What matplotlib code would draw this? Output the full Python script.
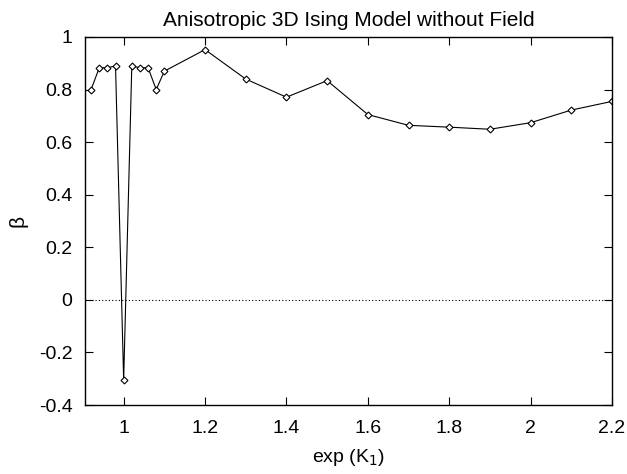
import matplotlib
matplotlib.use("Agg")
import matplotlib.pyplot as plt

x = [0.92, 0.94, 0.96, 0.98, 1.00, 1.02, 1.04, 1.06, 1.08, 1.10,
     1.2, 1.3, 1.4, 1.5, 1.6, 1.7, 1.8, 1.9, 2.0, 2.1, 2.2]
beta = [0.80, 0.883, 0.883, 0.89, -0.305, 0.89, 0.883, 0.883, 0.80, 0.87,
        0.952, 0.840, 0.771, 0.834, 0.705, 0.664, 0.657, 0.649, 0.674, 0.722, 0.755]
xticks = [1, 1.2, 1.4, 1.6, 1.8, 2, 2.2]
xticklabels = ["1", "1.2", "1.4", "1.6", "1.8", "2", "2.2"]
yticks = [-0.4, -0.2, 0, 0.2, 0.4, 0.6, 0.8, 1]
yticklabels = ["-0.4", "-0.2", "0", "0.2", "0.4", "0.6", "0.8", "1"]

plt.rcParams['font.family'] = ['Liberation Sans', 'DejaVu Sans']
fig = plt.figure(figsize=(6.27, 4.74), dpi=100)
ax = fig.add_axes([85/627, 1 - 405/474, (612-85)/627, (405-37)/474])

ax.axhline(0, color='black', lw=0.8, ls=(0, (1, 2)))
ax.plot(x, beta, color='black', lw=0.8, marker='D', markersize=3.5,
        markerfacecolor='white', markeredgecolor='black', markeredgewidth=0.8)

ax.set_xlim(0.905, 2.2)
ax.set_ylim(-0.4, 1)
ax.set_xticks(xticks)
ax.set_xticklabels(xticklabels)
ax.set_yticks(yticks)
ax.set_yticklabels(yticklabels)
ax.tick_params(direction='in', top=True, right=True, labelsize=14, length=6)
ax.tick_params(axis='y', pad=9)
ax.tick_params(axis='x', pad=11)
for s in ax.spines.values():
    s.set_linewidth(1.0)

ax.set_title("Anisotropic 3D Ising Model without Field", fontsize=15, pad=8)
ax.set_xlabel("exp (K$_1$)", fontsize=14, labelpad=7)
ax.set_ylabel("β", fontsize=15, labelpad=8)

fig.savefig("out.png", dpi=100)
